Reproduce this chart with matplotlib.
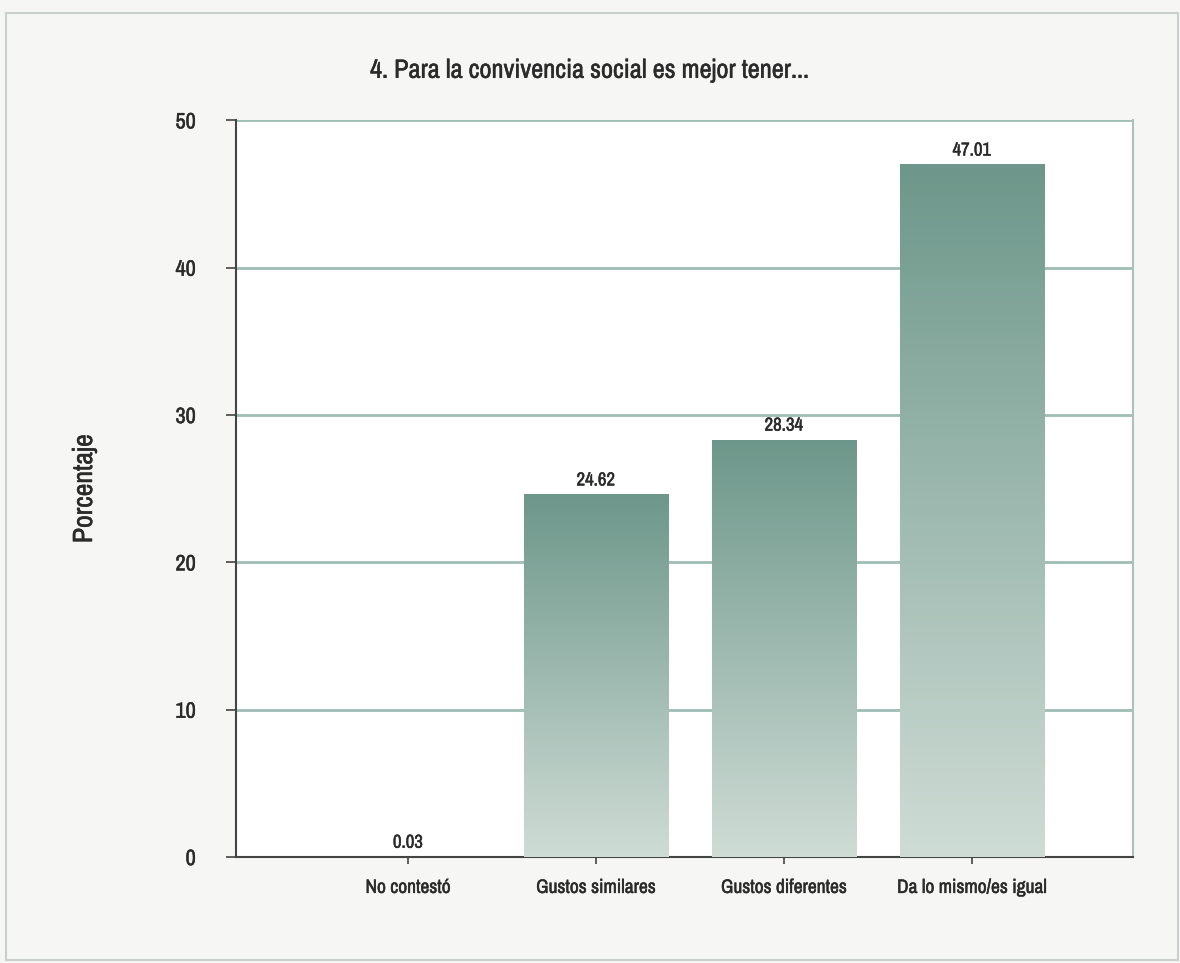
import numpy as np
import matplotlib.pyplot as plt
import matplotlib.patheffects as pe
from matplotlib.patches import Rectangle
from matplotlib import font_manager

# --- Data ---------------------------------------------------------------------
categories = ["No contestó", "Gustos similares", "Gustos diferentes",
              "Da lo mismo/es igual"]
values = [0.03, 24.62, 28.34, 47.01]
value_labels = ["0.03", "24.62", "28.34", "47.01"]
y_ticks = [0, 10, 20, 30, 40, 50]

TITLE = "4. Para la convivencia social es mejor tener..."
YLABEL = "Porcentaje"

# pick a narrow face if one is installed (the original uses a condensed font)
names = sorted({f.name for f in font_manager.fontManager.ttflist})
narrow = [n for n in names if "Narrow" in n or "Condensed" in n]
plt.rcParams["font.family"] = narrow[:1] + ["DejaVu Sans"]
plt.rcParams["font.stretch"] = "condensed"

TEXT = "#2b2b2b"
GRID = "#9fbdb5"
TOP_COL = np.array([0x6d, 0x97, 0x8a]) / 255
BOT_COL = np.array([0xcf, 0xdc, 0xd6]) / 255
# slight stroke to mimic the medium weight of the printed labels
HEAVY = [pe.withStroke(linewidth=0.35, foreground=TEXT)]

fig = plt.figure(figsize=(11.8, 9.63), dpi=100, facecolor="#f6f7f5")

# scanned-page frame
fig.add_artist(Rectangle((0.005, 0.003), 0.993, 0.984, transform=fig.transFigure,
                         fill=False, edgecolor="#c9cfcc", lw=1.5))

ax = fig.add_axes([0.2, 0.11, 0.76, 0.765])
ax.set_facecolor("white")

x = np.arange(len(categories))
width = 0.77
ax.set_xlim(-0.915, 3.856)
ax.set_ylim(0, 50)

# gradient bars: draw an invisible bar, then clip a vertical gradient to it
grad = np.linspace(0, 1, 256).reshape(-1, 1)
colors = BOT_COL + (TOP_COL - BOT_COL) * grad          # row 0 = bottom
img = colors.reshape(256, 1, 3)
bars = ax.bar(x, values, width=width, color="none", edgecolor="none", zorder=3)
for bar, v in zip(bars, values):
    x0 = bar.get_x()
    im = ax.imshow(img, origin="lower", aspect="auto", zorder=3,
                   extent=[x0, x0 + width, 0, max(v, 1e-3)])
    im.set_clip_path(bar)

for xi, v, lab in zip(x, values, value_labels):
    ax.text(xi, v + 0.4, lab, ha="center", va="bottom", fontsize=13.5,
            color=TEXT, zorder=4, path_effects=HEAVY)

ax.set_yticks(y_ticks)
ax.set_yticklabels([str(t) for t in y_ticks])
ax.yaxis.grid(True, color=GRID, lw=2)
ax.set_axisbelow(True)
ax.set_xticks(x)
ax.set_xticklabels(categories)

ax.tick_params(axis="y", length=7, width=1.2, color="#444444", labelsize=16,
               labelcolor=TEXT, pad=22)
ax.tick_params(axis="x", length=5, width=1.2, color="#444444", labelsize=14,
               labelcolor=TEXT, pad=10)
for lab in ax.get_xticklabels() + ax.get_yticklabels():
    lab.set_path_effects(HEAVY)

ax.spines["left"].set_color("#444444")
ax.spines["left"].set_linewidth(1.5)
ax.spines["bottom"].set_color("#444444")
ax.spines["bottom"].set_linewidth(1.5)
ax.spines["right"].set_color("#aac2bb")
ax.spines["right"].set_linewidth(1.5)
ax.spines["top"].set_visible(False)

ax.set_ylabel(YLABEL, fontsize=20, color=TEXT, path_effects=HEAVY)
ax.yaxis.set_label_coords(-0.155, 0.5)
fig.text(0.5, 0.927, TITLE, ha="center", va="center", fontsize=19, color=TEXT,
         path_effects=HEAVY)

fig.savefig("out.png", dpi=100, facecolor=fig.get_facecolor())
